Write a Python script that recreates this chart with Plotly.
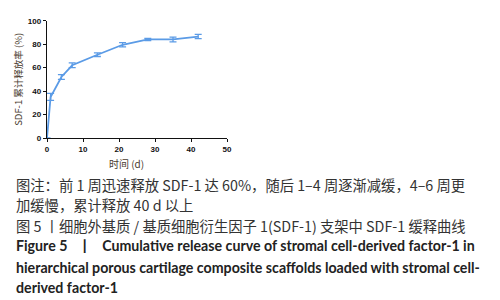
import plotly.graph_objects as go

days = [0, 1, 4, 7, 14, 21, 28, 35, 42]
release = [0, 35, 52, 62, 71, 79.5, 84, 84, 86.5]
err = [0, 3, 2, 2, 1.5, 1.8, 1, 2, 1.8]

x_ticks = [0, 10, 20, 30, 40, 50]
y_ticks = [0, 20, 40, 60, 80, 100]

caption_lines = [
    "图注：前 1 周迅速释放 SDF-1 达 60%，随后 1–4 周逐渐减缓，4–6 周更",
    "加缓慢，累计释放 40 d 以上",
    "图 5 丨细胞外基质 / 基质细胞衍生因子 1(SDF-1) 支架中 SDF-1 缓释曲线",
    "<b>Figure 5   丨   Cumulative release curve of stromal cell-derived factor-1 in</b>",
    "<b>hierarchical porous cartilage composite scaffolds loaded with stromal cell-</b>",
    "<b>derived factor-1</b>",
]
caption_y = [184, 204, 225, 246, 267, 287]

line_color = "#5b9be6"
title_color = "#4a3c30"

fig = go.Figure()
fig.add_trace(go.Scatter(
    x=days, y=release, mode="lines",
    line=dict(color=line_color, width=1.8),
    error_y=dict(type="data", array=err, visible=True, color=line_color,
                 thickness=1.3, width=3.5),
))

tickfont = dict(family="Liberation Sans, Arial", size=8, color="#111", weight="bold")
fig.update_layout(
    width=500, height=300,
    margin=dict(l=0, r=0, t=0, b=0),
    paper_bgcolor="white", plot_bgcolor="white",
    showlegend=False,
    xaxis=dict(domain=[47/500, 227/500], range=[0, 50], tickvals=x_ticks,
               automargin=False,
               showgrid=False, zeroline=False, showline=True, linecolor="#111",
               linewidth=1.4, ticks="outside", ticklen=3, tickwidth=1.3,
               tickcolor="#111", tickfont=tickfont),
    yaxis=dict(domain=[1-138/300, 1-20.7/300], range=[0, 100], tickvals=y_ticks,
               automargin=False,
               showgrid=False, zeroline=False, showline=True, linecolor="#111",
               linewidth=1.4, ticks="outside", ticklen=3, tickwidth=1.3,
               tickcolor="#111", tickfont=tickfont,
               title=dict(text="SDF-1 累计释放率 (%)",
                          font=dict(family="Noto Sans CJK SC", size=9.5, color=title_color),
                          standoff=3)),
)

fig.add_annotation(
    x=126/500, y=1-163/300, xref="paper", yref="paper",
    xanchor="center", yanchor="middle", showarrow=False, text="时间 (d)",
    font=dict(family="Noto Sans CJK SC", size=10, color=title_color),
)

for i, (txt, yy) in enumerate(zip(caption_lines, caption_y)):
    fig.add_annotation(
        x=14/500, y=1-yy/300, xref="paper", yref="paper",
        xanchor="left", yanchor="middle", showarrow=False, text=txt,
        font=dict(family="Noto Sans CJK SC" if i < 3 else "Lato, Open Sans",
                  size=14.3 if i < 3 else 14.2, color="#333" if i < 3 else "#222"),
    )

fig.write_html("out.html", config={"displayModeBar": False},
               post_script="document.body.style.margin='0';")
